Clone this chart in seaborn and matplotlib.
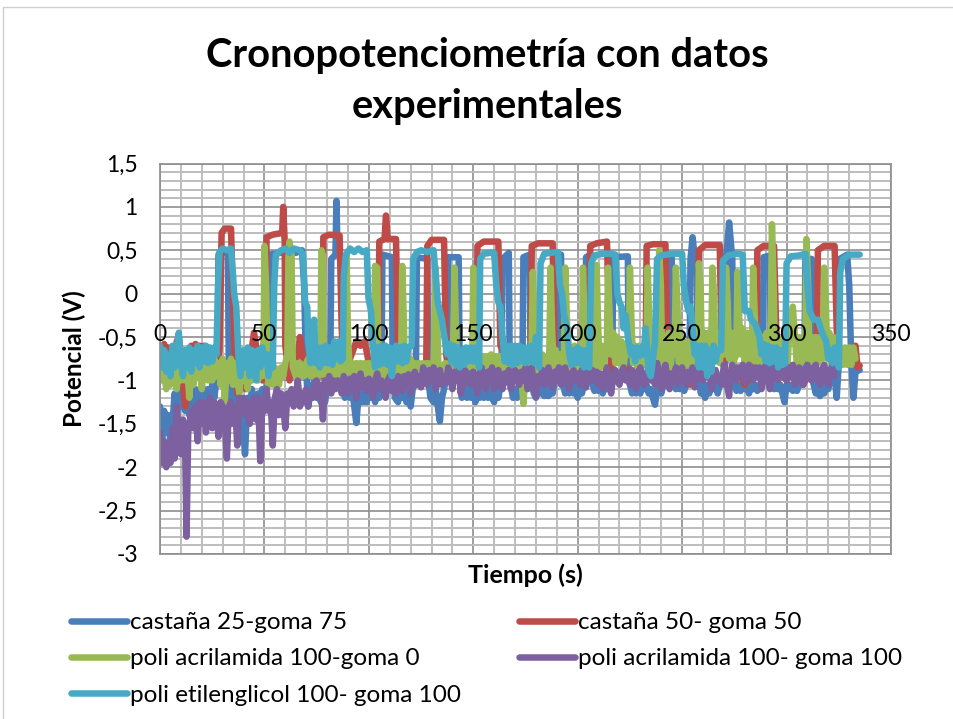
import matplotlib
matplotlib.use("Agg")
import matplotlib.pyplot as plt
from matplotlib.lines import Line2D
import seaborn as sns
import pandas as pd

names = ["castaña 25-goma 75", "castaña 50- goma 50", "poli acrilamida 100-goma 0",
         "poli acrilamida 100- goma 100", "poli etilenglicol 100- goma 100"]
colors = ["#4A7EBB", "#BE4B48", "#98B954", "#7D60A0", "#46AAC5"]

castana25 = [(0,-1.3),(1,-1.7),(2,-1.35),(3,-1.6),(4,-1.4),(5,-1.75),(6,-1.5),(7,-1.15),(8,-1.45),(9,-1.1),(10,-1.3),(11,-1.05),(12,-1.35),(13,-1.1),(14,-1.4),(15,-1.15),(16,-1.3),(17,-1.1),(18,-1.25),(19,-1.1),(20,-1.35),(21,-1.1),(22,-1.2),(23,-1.1),(24,-1.3),(25,-1.05),(26,-1.2),(27,-1.0),(27.5,-.9),(28,.45),(30,.5),(32.5,.45),(33,-1.0),(34,-1.25),(35,-1.1),(36,-1.4),(37,-1.5),(38,-1.2),(39,-1.35),(40,-1.6),(40.7,-1.85),(41.5,-1.4),(42,-1.2),(43,-1.35),(44,-1.1),(45,-1.3),(46,-1.4),(47,-1.15),(48,-1.3),(49,-1.1),(50,-1.3),(51,-1.1),(52,-1.0),(52.5,.45),(60,.48),(65,.47),(68,.5),(69,.1),(70,-.9),(71,-1.3),(72,-1.05),(73,-1.2),(74,-1.0),(75,-1.2),(76,-1.05),(77,-1.25),(78,-1.05),(79,-1.25),(80,-1.1),(81.5,-.95),(82,.4),(84,.45),(84.5,1.07),(85,.45),(87,.42),(87.5,-.9),(88.5,-1.2),(90,-1.05),(91,-1.2),(92,-1.1),(93,-1.3),(94,-1.49),(95,-1.2),(96,-1.1),(97,-1.25),(98,-1.1),(99,-1.25),(100,-1.05),(101,-1.2),(102,-1.1),(103,-1.25),(104,-1.1),(105,-1.2),(106,-1.0),(106.5,.45),(111,.42),(111.5,-1.0),(112.5,-1.2),(114,-1.25),(115,-1.05),(116,-1.2),(117,-1.05),(118,-1.25),(119,-1.1),(120,-1.3),(121,-1.1),(122.5,-1.0),(123,.42),(128,.4),(128.5,-1.0),(129.5,-1.2),(131,-1.25),(132,-1.1),(133,-1.3),(134,-1.47),(135,-1.2),(136,-1.1),(137.5,-.9),(138,.42),(143,.42),(143.5,-1.0),(144.5,-1.2),(146,-1.1),(147,-1.2),(148,-1.05),(149,-1.2),(150,-1.05),(151,-1.25),(152,-1.1),(153,-1.2),(154,-1.05),(155,-1.2),(156,-1.05),(157,-1.2),(158,-1.05),(159,-1.2),(160,-1.25),(161,-1.05),(162,-1.2),(163.5,-1.0),(164,.4),(167,.47),(167.5,-1.0),(169,-1.2),(170,-1.1),(171,-1.2),(172,-1.05),(173.5,-.95),(174,.42),(177,.45),(177.5,-1.0),(179,-1.15),(180,-1.2),(181,-1.05),(182,-1.15),(183,-1.05),(184,-1.18),(185,-1.05),(186,-1.18),(187,-1.05),(188,-1.15),(189.5,-.95),(190,.42),(192,.45),(192.5,-1.0),(194,-1.15),(195,-1.05),(196,-1.15),(197,-1.05),(198,-1.15),(199,-1.05),(200,-1.2),(201,-1.05),(202,-1.15),(203.5,-1.0),(204,.42),(206,.45),(206.5,-1.0),(208,-1.12),(209,-1.05),(210,-1.12),(211,-1.05),(212,-1.15),(213,-1.05),(214,-1.1),(216.5,-1.0),(217,.42),(224,.43),(224.5,-1.0),(226,-1.15),(227,-1.05),(228,-1.15),(229,-1.05),(230,-1.15),(231,-1.05),(232,-1.1),(233,-1.05),(234,-1.15),(235,-1.1),(236,-1.2),(237,-1.28),(238,-1.1),(239,-1.05),(240,-1.15),(241,-1.05),(242.5,-.95),(243,.4),(245,.42),(245.5,-1.0),(247,-1.1),(248,-1.05),(249,-1.1),(250,-1.05),(251,-1.12),(252,-1.05),(253.5,-.95),(254,.4),(255,.65),(256,.42),(257,.42),(257.5,-.95),(259,-1.15),(260,-1.05),(261,-1.2),(262,-1.05),(263,-1.15),(264,-1.05),(265,-1.1),(266,-1.05),(267,-1.15),(268,-1.05),(270.5,-.95),(271,.4),(272.5,.82),(274,.4),(274.5,-.95),(276,-1.12),(277,-1.05),(278,-1.12),(279,-1.05),(280,-1.1),(281,-1.05),(282,-1.15),(283,-1.05),(284,-1.1),(285,-1.05),(286,-1.12),(288.5,-1.0),(289,.42),(292,.44),(292.5,-.95),(294,-1.1),(295,-1.05),(296,-1.1),(297,-1.05),(298,-1.15),(299,-1.25),(300,-1.05),(301,-1.1),(302,-1.05),(303,-1.12),(304,-1.05),(305,-1.12),(306,-1.05),(308.5,-.95),(309,.4),(312,.4),(312.5,-1.0),(314,-1.15),(315,-1.05),(316,-1.18),(317,-1.05),(318,-1.15),(319,-1.05),(320,-1.1),(321,-.95),(322,-1.0),(323,-.95),(324,-1.2),(325,-.8),(325.5,.4),(329,.45),(330,.1),(331,-.8),(332,-1.2),(333,-.9),(335,-.88)]

castana50 = [(0,-.6),(1,-.7),(2,-.58),(3,-.8),(4,-.62),(5,-.95),(6,-.75),(7,-.85),(8,-.55),(9,-.5),(10,-.7),(11,-1.0),(12,-1.3),(13,-1.15),(14,-.85),(15,-.6),(16,-.75),(17,-.58),(18,-.8),(19,-.6),(20,-.72),(21,-.6),(22,-.78),(23,-.62),(24,-.8),(25,-.95),(26,-.85),(27,-.9),(28.5,-.65),(29.5,.7),(31,.75),(34,.75),(35,-.1),(36,-.9),(37,-1.15),(39,-.9),(41,-1.1),(43,-.8),(45,-.45),(47,-.75),(49,-1.0),(50.5,-.9),(51,.65),(54,.68),(58.5,.7),(59,1.0),(59.7,.6),(60,-.6),(62,-1.0),(64,-.85),(66,-.7),(67,-.5),(69,-.8),(72,-.95),(75,-.8),(77,-.95),(77.8,-.7),(78.2,.65),(81,.68),(86,.67),(87,-.4),(88,-.9),(91,-.75),(94,-.55),(96,-.6),(98,-.55),(100,-.8),(102,-1.0),(104.5,-.9),(105,.6),(107.5,.63),(108.2,.9),(109,.63),(113,.63),(114,-.7),(116,-.95),(119,-.8),(122,-.95),(125,-.85),(127.5,-.8),(128,.55),(130,.62),(136,.62),(137,-.7),(139,-1.0),(142,-.85),(145,-1.05),(148,-.85),(151.5,-.8),(152,.55),(155,.6),(162,.6),(163,-.6),(165,-.7),(168,-.95),(171,-.85),(174,-1.0),(177.5,-.8),(178,.55),(181,.58),(188,.58),(189,-.7),(192,-.95),(195,-.85),(199,-1.0),(203,-.85),(205.5,-.8),(206,.55),(209,.58),(214,.6),(215,-.3),(216,-.85),(219,-1.0),(223,-.85),(227,-1.0),(230,-.85),(232.5,-.8),(233,.55),(236,.57),(242,.57),(243,-.7),(246,-1.0),(250,-.85),(254,-1.05),(257.5,-.8),(258,.5),(261,.56),(268,.56),(269,-.7),(272,-1.0),(276,-.85),(280,-1.05),(285.5,-.8),(286,.5),(289,.55),(294,.55),(295,-.4),(297,-.9),(300,-1.0),(304,-.85),(308,-1.05),(312,-.85),(314.5,-.8),(315,.5),(318,.55),(323,.55),(324,-.4),(325,-.75),(328,-.8),(331,-.82),(333,-.6),(334,-.85),(335,-.83)]

poli_acril_0 = [(0,-.85),(1,-1.0),(2,-.9),(3,-1.1),(4,-.85),(5,-1.05),(6,-.95),(7,-.75),(8,-1.1),(9,-.8),(10,-1.0),(11,-.85),(12,-1.0),(13,-.8),(14,-1.2),(15,-.85),(16,-1.05),(17,-.8),(18,-.95),(19,-.85),(20,-1.1),(21,-.85),(22,-.75),(23,-1.0),(24,-.8),(25,-1.0),(26,-.75),(27,-.95),(28,-.8),(29,-1.05),(30,-.75),(31,-1.25),(32,-.8),(33,-1.0),(34,-.75),(35,-1.05),(36,-.8),(37,-1.0),(38,-1.15),(39,-.85),(40,-1.0),(41,-.85),(42,-1.1),(43,-.8),(44,-1.0),(45,-.8),(46,-.95),(47,-1.0),(48,-.85),(49,-.95),(49.7,-.4),(50,.55),(50.8,.1),(51.5,-.9),(52,-1.05),(53,-.85),(54,-1.05),(55,-.85),(56,-1.0),(57,-1.05),(58,-.85),(59,-.95),(60,-.8),(61,-.7),(61.5,.4),(62,.6),(63,.45),(63.6,-.85),(65,-.95),(66,-.8),(67,-.8),(68,-.95),(69,-.95),(70,-.8),(71,-.75),(72,-.95),(73,-.95),(74,-.8),(75,-.8),(76,-.95),(76.7,-.85),(77.3,.5),(77.9,.45),(78.5,-.8),(79,-.95),(80,-.8),(81,-.95),(82,-.8),(83,-.95),(84,-.8),(85,-.95),(86,-.8),(87,-.95),(88,-.9),(89.3,.45),(90,-.5),(91,-.95),(92,-.8),(93,-.95),(94,-.8),(95,-.95),(96,-.8),(97,-.95),(98,-.8),(99,-.95),(100,-.8),(101,-.95),(102.5,-.85),(103,.32),(104,.3),(104.6,-.85),(105.5,-.95),(106.5,-.8),(107.5,-.95),(108.5,-.8),(109.5,-.95),(110.5,-.8),(111.5,-.95),(112.5,-.8),(113.5,-.95),(115.4,-.85),(116,.32),(116.6,-.2),(117.3,-.9),(118,-.75),(119,-.95),(120,-.75),(121,-.95),(122,-.8),(123,-.95),(124,-.8),(125,-.95),(126,-.8),(127,-.95),(128,-.8),(129,-.95),(130,-.8),(131,-.8),(132,.3),(132.7,-.3),(133.5,-1.05),(134.5,-.85),(135.5,-.95),(136.5,-.8),(137.5,-.95),(138.5,-.8),(139.5,-.95),(140.3,-.85),(141,.3),(141.7,-.4),(142.5,-.95),(143.5,-.8),(144.5,-.95),(145.5,-.8),(146.5,-.95),(147.5,-.8),(148.5,-.95),(149.5,-.85),(150,.3),(150.6,-.4),(151.5,-.85),(152.5,-.7),(153.5,-.95),(154.5,-.72),(155.5,-.92),(156.5,-.72),(157.5,-.92),(158.5,-.7),(159.5,-.92),(160.5,-.72),(161.5,-.9),(162.5,-.72),(163.5,-.92),(164.5,-.72),(165.5,-.92),(166.5,-.72),(167.5,-.92),(168.5,-.75),(169.5,-.95),(170.5,-.72),(171.5,-.95),(172.5,-.8),(174,-1.27),(175,-.9),(176,-.72),(177,-.92),(177.8,-.85),(178.5,.25),(179.2,-.3),(180,-.9),(181,-.7),(182,-.92),(183,-.7),(184,-.92),(185,-.72),(186.3,-.85),(187,.3),(187.7,-.4),(188.5,-.85),(189.5,-.65),(190.5,-.9),(191.5,-.7),(192.5,-.9),(193.4,-.8),(194,.3),(194.7,-.2),(195.5,-.85),(196.5,-.62),(197.5,-.85),(198.5,-.6),(199.5,-.88),(200.5,-.7),(201.2,-.85),(201.9,-.8),(202.5,.3),(203.2,-.3),(204,-.85),(205,-.65),(206,-.85),(207,-.65),(208,-.85),(208.4,-.8),(209,.33),(209.7,-.3),(210.5,-.85),(211.5,-.6),(212.5,-.85),(213.2,-.7),(213.9,-.7),(214.5,.3),(215.2,-.2),(216,-.7),(217,-.45),(218,-.8),(219,-.5),(220,-.8),(221,-.55),(222,-.85),(223,-.6),(224.4,-.7),(225,.3),(225.7,-.3),(226.5,-.8),(227.5,-.6),(228.5,-.85),(229.5,-.6),(230.5,-.85),(231.5,-.6),(232.9,-.8),(233.5,.3),(234.2,-.3),(235,-.8),(236,-.55),(237,-.85),(238.4,-.75),(239,.5),(239.8,.1),(240.5,-.85),(241.5,-.5),(242.5,-.85),(243.5,-.45),(244.5,-.85),(245.5,-.55),(246.4,-.7),(247,.3),(247.7,-.1),(248.5,-.8),(249.5,-.5),(250.5,-.85),(251.5,-.55),(252.5,-.85),(253.5,-.55),(254.5,-.85),(255.5,-.6),(257.4,-.7),(258,.35),(258.8,.1),(259.5,-.75),(260.5,-.45),(261.5,-.8),(262.5,-.45),(263.2,-.8),(263.9,-.7),(264.5,.3),(265.2,0),(266,-.75),(267,-.45),(268,-.8),(269,-.5),(270.4,-.7),(271,.3),(271.8,-.1),(272.5,-.75),(273.5,-.45),(274.5,-.8),(275.9,-.7),(276.5,.25),(277.2,-.2),(278,-.7),(279,-.4),(280,-.8),(281,-.45),(282,-.8),(283.4,-.7),(284,.3),(284.7,-.2),(285.5,-.8),(286.5,-.45),(287.5,-.8),(288.5,-.5),(289.5,-.8),(290.5,-.45),(291.5,-.8),(292.3,-.7),(293,.8),(293.8,.1),(294.5,-.8),(295.5,-.5),(296.5,-.8),(297.5,-.5),(298.5,-.8),(299.5,-.5),(300.5,-.8),(301.5,-.35),(302,-.4),(303,-.15),(304,-.5),(305,-.85),(306,-.5),(307,-.8),(308.9,-.7),(309.5,.63),(310.3,.1),(311,-.8),(312,-.5),(313,-.8),(314,-.5),(315,-.8),(316,-.5),(317.4,-.75),(318,.3),(318.8,-.1),(319.5,-.75),(320.5,-.45),(321.5,-.8),(322.5,-.5),(323.5,-.8),(324.5,-.55),(325.5,-.8),(326,-.62),(327,-.82),(328,-.62),(329,-.82),(330,-.62),(331,-.82),(332,-.62),(333,-.75)]

poli_acril_100 = [(0,-1.6),(1,-1.95),(2,-1.7),(3,-2.0),(4,-1.75),(5,-1.95),(6,-1.55),(7,-1.9),(8,-1.3),(9,-1.6),(10,-1.85),(11,-1.45),(12,-1.7),(12.7,-2.8),(13.5,-1.6),(15,-1.35),(16,-1.55),(17,-1.3),(18,-1.7),(19,-1.25),(20,-1.5),(21,-1.25),(22,-1.6),(23,-1.3),(24,-1.2),(25,-1.55),(26,-1.25),(27,-1.35),(28,-1.65),(29,-1.25),(30,-1.3),(31,-1.45),(32,-1.9),(33,-1.3),(34,-1.25),(35,-1.5),(36,-1.3),(37,-1.75),(38,-1.2),(39,-1.35),(40,-1.2),(41,-1.4),(42,-1.25),(43,-1.5),(44,-1.3),(45,-1.2),(46,-1.45),(47,-1.2),(48,-1.93),(49,-1.25),(50,-1.35),(51,-1.1),(52,-1.35),(53,-1.25),(54,-1.75),(55,-1.2),(56,-1.1),(57,-1.4),(58,-1.15),(59,-1.3),(60,-1.55),(61,-1.15),(62,-1.25),(63,-1.1),(64,-1.3),(65,-1.2),(66,-1.0),(67,-1.3),(68,-1.15),(69,-1.25),(70,-1.1),(71,-1.3),(72,-1.15),(73,-1.2),(74,-1.05),(75,-1.0),(76,-1.2),(77,-1.05),(78,-1.45),(79,-1.0),(80,-1.1),(81,-.95),(82,-1.15),(83,-1.0),(84,-1.1),(85,-1.0),(86,-1.05),(87,-1.15),(88,-.95),(89,-1.05),(90,-1.15),(91,-.98),(92,-1.08),(93,-.95),(94,-1.2),(95,-1.0),(96,-.92),(97,-1.08),(98,-1.0),(99,-1.12),(100,-.98),(101,-1.08),(102,-1.2),(103,-1.0),(104,-.92),(105,-1.1),(106,-1.0),(107,-1.1),(108,-1.2),(109,-1.0),(110,-.95),(111,-1.12),(112,-1.0),(113,-1.15),(114,-.95),(115,-1.05),(116,-1.12),(117,-.95),(118,-1.05),(119,-.93),(120,-1.15),(121,-.98),(122,-.9),(123,-1.05),(124,-.95),(125,-1.08),(126,-.85),(127,-1.0),(128,-1.05),(129,-.88),(130,-1.0),(131,-.85),(132,-1.1),(133,-.95),(134,-.88),(135,-1.05),(136,-.95),(137,-1.02),(138,-.85),(139,-.98),(140,-1.1),(141,-.9),(142,-1.0),(143,-.88),(144,-1.15),(145,-.95),(146,-.88),(147,-1.02),(148,-.92),(149,-1.05),(150,-.9),(151,-1.0),(152,-1.15),(153,-.92),(154,-.85),(155,-1.05),(156,-1.1),(157,-.9),(158,-1.0),(159,-.85),(160,-1.1),(161,-.95),(162,-.88),(163,-1.05),(164,-1.1),(165,-.92),(166,-1.02),(167,-.88),(168,-1.1),(169,-.95),(170,-.88),(171,-1.0),(172,-1.05),(173,-.9),(174,-1.0),(175,-.85),(176,-1.1),(177,-.92),(178,-.85),(179,-1.05),(180,-1.18),(181,-.95),(182,-1.02),(183,-.88),(184,-1.05),(185,-.92),(186,-.85),(187,-1.02),(188,-1.08),(189,-.9),(190,-1.0),(191,-.85),(192,-1.05),(193,-.92),(194,-.85),(195,-1.02),(196,-1.1),(197,-.95),(198,-.88),(199,-1.0),(200,-.92),(201,-1.05),(202,-.88),(203,-.98),(204,-1.08),(205,-.9),(206,-1.0),(207,-.88),(208,-1.0),(209,-.9),(210,-1.05),(211,-.92),(212,-1.1),(213,-.95),(214,-.85),(215,-1.02),(216,-1.15),(217,-.95),(218,-.88),(219,-1.0),(220,-1.05),(221,-.9),(222,-.85),(223,-1.0),(224,-.92),(225,-1.05),(226,-.88),(227,-1.0),(228,-1.1),(229,-.9),(230,-.85),(231,-1.02),(232,-1.05),(233,-.92),(234,-.85),(235,-1.0),(236,-.92),(237,-1.05),(238,-.8),(239,-.95),(240,-1.1),(241,-.9),(242,-.82),(243,-1.0),(244,-1.1),(245,-.92),(246,-1.0),(247,-.85),(248,-1.05),(249,-.92),(250,-.85),(251,-1.0),(252,-1.05),(253,-.9),(254,-.98),(255,-.85),(256,-1.08),(257,-.92),(258,-.85),(259,-.98),(260,-1.0),(261,-.88),(262,-.95),(263,-.85),(264,-1.1),(265,-.95),(266,-.88),(267,-1.0),(268,-.95),(269,-1.05),(270,-.82),(271,-1.0),(272.5,-1.18),(273,-1.0),(274,-.82),(275,-.98),(276,-1.0),(277,-.85),(278,-.92),(279,-.82),(280,-1.02),(281,-.88),(282,-.82),(283,-.98),(284,-1.0),(285,-.85),(286,-.95),(287,-.85),(288,-1.1),(289,-.92),(290,-.82),(291,-.98),(292,-1.1),(293,-.9),(294,-.82),(295,-.98),(296,-1.0),(297,-.85),(298,-.78),(299,-.95),(300,-1.0),(301,-.85),(302,-.95),(303,-.82),(304,-1.05),(305,-.92),(306,-.85),(307,-.98),(308,-1.05),(309,-.88),(310,-.82),(311,-.98),(312,-1.0),(313,-.85),(314,-.82),(315,-.98),(316,-1.05),(317,-.88),(318,-.82),(319,-.98),(320,-1.05),(321,-.88),(322,-.82),(323,-.95)]

poli_etil_100 = [(0,-.6),(1,-.85),(2,-.65),(3,-.9),(4,-.7),(5,-.95),(6,-.6),(7,-.85),(8,-.65),(9,-.45),(10,-.8),(11,-.95),(12,-.65),(13,-.85),(14,-.62),(15,-.9),(16,-.65),(17,-.8),(18,-.6),(19,-.85),(20,-.62),(21,-.78),(22,-.6),(23,-.8),(24,-.62),(25,-.78),(26,-.62),(27,-.7),(27.8,.1),(28.5,.48),(30,.52),(32,.5),(34,.52),(35,.2),(35.5,0),(36.5,-.15),(37.5,-.7),(38.5,-.95),(40,-.65),(41,-.85),(42,-.62),(43,-.95),(44,-.65),(45,-.75),(46,-1.0),(47,-.65),(48,-.85),(49,-.62),(50,-.8),(51,-.7),(52,-.95),(53,-.7),(54,-.85),(54.7,.1),(55.5,.45),(58,.5),(60,.52),(62,.47),(64,.52),(67,.5),(68.5,.45),(69.5,-.1),(70.5,-.15),(71,-.55),(72,-.8),(73,-.62),(73.8,-.3),(74.5,-.8),(75.5,-.62),(76.5,-.85),(77.5,-.62),(78.5,-.8),(79.5,-.6),(80.5,-.8),(81.5,-.62),(82.5,-.82),(83.5,-.55),(84.5,-.75),(85.5,-.55),(86.5,-.78),(87.5,-.75),(88,.2),(89,.45),(91,.52),(93,.48),(95,.52),(97,.48),(99,.5),(99.8,-.05),(101,-.2),(102,-.6),(103,-.85),(104,-.62),(105,-.82),(106,-.6),(107,-.8),(108,-.6),(109,-.82),(110,-.62),(111,-.95),(112,-.7),(113,-.6),(114,-.78),(115,-.62),(116,-.8),(117,-.6),(118,-.78),(119,-.62),(120.5,-.6),(121.2,.4),(123,.48),(125,.5),(128,.48),(131,.5),(132,.2),(133,-.1),(135,-.3),(136.5,-.55),(137.5,-.7),(138.5,-.58),(139.5,-.78),(140.5,-.6),(141.5,-.82),(142.5,-.62),(143.5,-.85),(144.5,-.65),(145.5,-.82),(146.5,-.62),(147.5,-.78),(148.5,-.62),(149.5,-.78),(150.5,-.62),(151.5,-.78),(152,-.65),(152.8,-.85),(153.3,.4),(155,.46),(158,.47),(160,.47),(161,.1),(162,-.1),(163,-.15),(164,-.5),(165,-.78),(166,-.6),(167,-.8),(168,-.6),(169,-.82),(170,-.6),(171,-.8),(172,-.6),(173,-.78),(174,-.62),(175,-.8),(176,-.62),(177,-.78),(178,-.6),(179,-.8),(180,-.5),(181.5,-.85),(182.2,.35),(184,.46),(187,.47),(190.5,.48),(191.5,.1),(192.5,0),(193.5,-.25),(195,-.4),(196,-.7),(197,-.82),(198,-.65),(199,-.8),(200,-.62),(201,-.8),(202,-.65),(203,-.85),(204,-.65),(205.5,-.85),(206.5,.35),(208,.44),(212,.46),(216,.46),(218,.45),(219,.0),(220,-.1),(221,-.15),(222,-.4),(223,-.25),(224,-.5),(225.5,-.7),(226.5,-.62),(227.5,-.78),(228.5,-.62),(229.5,-.72),(230.5,-.62),(231.5,-.7),(232.5,-.4),(234,-.9),(235,-.95),(236.3,-.7),(237,-.55),(238,.4),(240,.44),(245,.46),(250,.46),(250.8,.1),(252,-.1),(253,-.2),(254,-.15),(255,-.4),(256,-.7),(257,-.6),(258,-.85),(259,-.6),(260,-.85),(261,-.6),(262,-.95),(263,-.65),(264,-.9),(265,-.6),(266,-.78),(267,-.65),(268.7,-.65),(269.5,.38),(272,.44),(276,.46),(279,.45),(280,-.2),(282,-.2),(283,-.3),(285,-.35),(287,-.5),(288,-.7),(289,-.58),(290,-.78),(291,-.6),(292,-.8),(293,-.62),(294,-.78),(295,-.62),(296,-.85),(297,-.65),(298,-.82),(299.3,-.8),(300,.35),(302,.43),(306,.44),(309,.46),(310,.1),(311,-.2),(313,-.3),(315,-.3),(317,-.45),(319,-.55),(320,-.75),(321,-.65),(322,-.8),(323,-.62),(324,-.75),(325,-.85),(325.7,.25),(327,.4),(330,.45),(333,.45),(335,.45)]

series = [castana25, castana50, poli_acril_0, poli_acril_100, poli_etil_100]
x_ticks = [0, 50, 100, 150, 200, 250, 300, 350]
x_tick_labels = ["0", "50", "100", "150", "200", "250", "300", "350"]
y_ticks = [1.5, 1, 0.5, 0, -0.5, -1, -1.5, -2, -2.5, -3]
y_tick_labels = ["1,5", "1", "0,5", "0", "-0,5", "-1", "-1,5", "-2", "-2,5", "-3"]

df = pd.DataFrame(
    [(n, t, v) for n, s in zip(names, series) for t, v in s],
    columns=["serie", "t", "v"],
)

sns.set_theme(style="white")
plt.rcParams["font.family"] = ["Lato", "DejaVu Sans"]

W, H = 954, 719
fig = plt.figure(figsize=(W / 100, H / 100), dpi=100, facecolor="white")
ax = fig.add_axes([160 / W, 1 - 554 / H, (891 - 160) / W, (554 - 163.5) / H])

sns.lineplot(
    data=df, x="t", y="v", hue="serie", hue_order=names, palette=colors,
    sort=False, estimator=None, errorbar=None, lw=4.7,
    solid_capstyle="round", solid_joinstyle="round", ax=ax,
)

ax.set_xlim(0, 350)
ax.set_ylim(-3, 1.5)
ax.set_xticks(x_ticks)
ax.set_xticks(range(0, 351, 10), minor=True)
ax.set_yticks(y_ticks)
ax.set_yticks([i / 10 for i in range(-30, 16)], minor=True)
ax.grid(True, which="minor", color="#BDBDBD", lw=1.4)
ax.grid(True, which="major", color="#8E8E8E", lw=1.2)
ax.set_axisbelow(True)
for sp in ax.spines.values():
    sp.set_color("#8E8E8E")
    sp.set_linewidth(1.2)

ax.tick_params(which="both", length=0)
ax.set_yticklabels(y_tick_labels, fontsize=16.5, color="black")
ax.tick_params(axis="y", pad=16)
ax.set_xticklabels([])

# x tick labels sit over the lines, near the y = 0 crossing
sec = ax.secondary_xaxis(3 / 4.5)
sec.set_zorder(6)
sec.set_xticks(x_ticks)
sec.set_xticklabels(x_tick_labels, fontsize=16.5, color="black")
sec.xaxis.set_ticks_position("bottom")
sec.tick_params(length=0, pad=22)
sec.spines[:].set_visible(False)

ax.set_xlabel("Tiempo (s)", fontsize=18, fontweight="bold", color="black", labelpad=3)
ax.set_ylabel("Potencial (V)", fontsize=17.5, fontweight="bold", color="black", labelpad=8)
fig.text(487 / W, 1 - 81 / H, "Cronopotenciometría con datos\nexperimentales",
         ha="center", va="center", fontsize=28.7, fontweight="bold", color="black",
         linespacing=1.45)

handles, labels = ax.get_legend_handles_labels()
order = [0, 2, 4, 1, 3]
ax.legend(
    [handles[i] for i in order], [labels[i] for i in order],
    ncol=2, loc="upper left", bbox_to_anchor=(71 / W, 1 - 612 / H),
    bbox_transform=fig.transFigure, frameon=False, fontsize=17.5,
    handlelength=2.3, handletextpad=0.12, columnspacing=2.4, labelspacing=0.63,
    borderpad=0, borderaxespad=0, labelcolor="black",
)

fig.add_artist(Line2D([3.5 / W, 3.5 / W], [0, 1 - 6.5 / H], color="#D0D0D0", lw=1))
fig.add_artist(Line2D([3.5 / W, 1], [1 - 6.5 / H, 1 - 6.5 / H], color="#D0D0D0", lw=1))

fig.savefig("out.png", dpi=100)
